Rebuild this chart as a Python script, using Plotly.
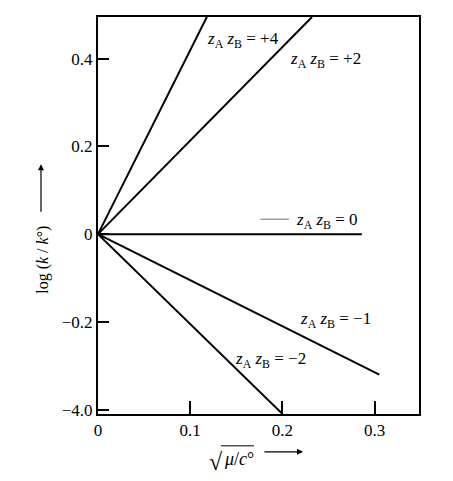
import plotly.graph_objects as go

# Data: each line starts at origin and ends at the read endpoint
series_names = ["+4", "+2", "0", "−1", "−2"]
x_start = [0, 0, 0, 0, 0]
y_start = [0, 0, 0, 0, 0]
x_end = [0.118, 0.232, 0.286, 0.305, 0.200]
y_end = [0.495, 0.495, 0.0, -0.320, -0.410]

# label anchor positions (data coords)
label_x = [0.116, 0.206, 0.212, 0.217, 0.146]
label_y = [0.443, 0.398, 0.030, -0.195, -0.286]

x_tickvals = [0, 0.1, 0.2, 0.3]
x_ticktext = ["0", "0.1", "0.2", "0.3"]
y_tickvals = [0.4, 0.2, 0, -0.2, -0.4]
y_ticktext = ["0.4", "0.2", "0", "−0.2", "−4.0"]

FONT = "Liberation Serif"
fig = go.Figure()
for i, name in enumerate(series_names):
    fig.add_trace(go.Scatter(
        x=[x_start[i], x_end[i]], y=[y_start[i], y_end[i]],
        mode="lines", line=dict(color="black", width=2),
        showlegend=False, hoverinfo="skip"))
    fig.add_annotation(
        x=label_x[i], y=label_y[i], xref="x", yref="y",
        text=f"<i>z</i><sub>A</sub> <i>z</i><sub>B</sub> = {name}",
        showarrow=False, xanchor="left", yanchor="middle",
        font=dict(family=FONT, size=17, color="black"))

# small leader dash before zAzB = 0
fig.add_shape(type="line", xref="x", yref="y", x0=0.176, x1=0.207, y0=0.034, y1=0.034,
              line=dict(color="#888", width=1.2))

# page has 8px default body margin; compensate so plot area sits at (98,15)-(419,414)
OFF = 8
W, H = 453 - OFF, 481 - OFF
L, R, T, B = 98 - OFF, 34, 15 - OFF, 67
pw, ph = W - L - R, H - T - B

def px(x):
    return (x - OFF - L) / pw

def py(y):
    return (H - B - (y - OFF)) / ph

# y-axis title
fig.add_annotation(x=px(43), y=py(259), xref="paper", yref="paper",
                   xanchor="center", yanchor="middle",
                   text="log (<i>k</i> / <i>k</i>°)", textangle=-90, showarrow=False,
                   font=dict(family=FONT, size=16, color="black"))
fig.add_annotation(x=px(41), y=py(163), xref="paper", yref="paper",
                   ax=0, ay=49, axref="pixel", ayref="pixel", text="",
                   showarrow=True, arrowhead=2, arrowsize=1, arrowwidth=1.2, arrowcolor="black")

# x-axis title: radical sign + argument + overline
fig.add_annotation(x=px(216), y=py(462), xref="paper", yref="paper",
                   xanchor="center", yanchor="middle",
                   text="√", showarrow=False,
                   font=dict(family=FONT, size=24, color="black"))
fig.add_annotation(x=px(222), y=py(459), xref="paper", yref="paper",
                   xanchor="left", yanchor="middle",
                   text="<i>μ</i>/<i>c</i>°", showarrow=False,
                   font=dict(family=FONT, size=18, color="black"))
fig.add_shape(type="line", xref="paper", yref="paper", x0=px(221), x1=px(254),
              y0=py(446), y1=py(446), line=dict(color="black", width=1))
fig.add_annotation(x=px(303), y=py(452), xref="paper", yref="paper",
                   ax=-40, ay=0, axref="pixel", ayref="pixel", text="",
                   showarrow=True, arrowhead=2, arrowsize=1, arrowwidth=1.2, arrowcolor="black")

fig.update_xaxes(range=[0, 0.348], tickvals=x_tickvals, ticktext=x_ticktext,
                 ticks="inside", ticklen=13, tickwidth=1.5, tickcolor="black",
                 showline=True, linecolor="black", linewidth=2, mirror=True,
                 showgrid=False, zeroline=False,
                 tickfont=dict(family=FONT, size=17, color="black"))
fig.update_yaxes(range=[-0.41, 0.495], tickvals=y_tickvals, ticktext=y_ticktext,
                 ticks="inside", ticklen=11, tickwidth=1.5, tickcolor="black",
                 showline=True, linecolor="black", linewidth=2, mirror=True,
                 showgrid=False, zeroline=False,
                 tickfont=dict(family=FONT, size=17, color="black"))

fig.update_layout(width=W, height=H, margin=dict(l=L, r=R, t=T, b=B),
                  plot_bgcolor="white", paper_bgcolor="white")
fig.write_html("out.html")
